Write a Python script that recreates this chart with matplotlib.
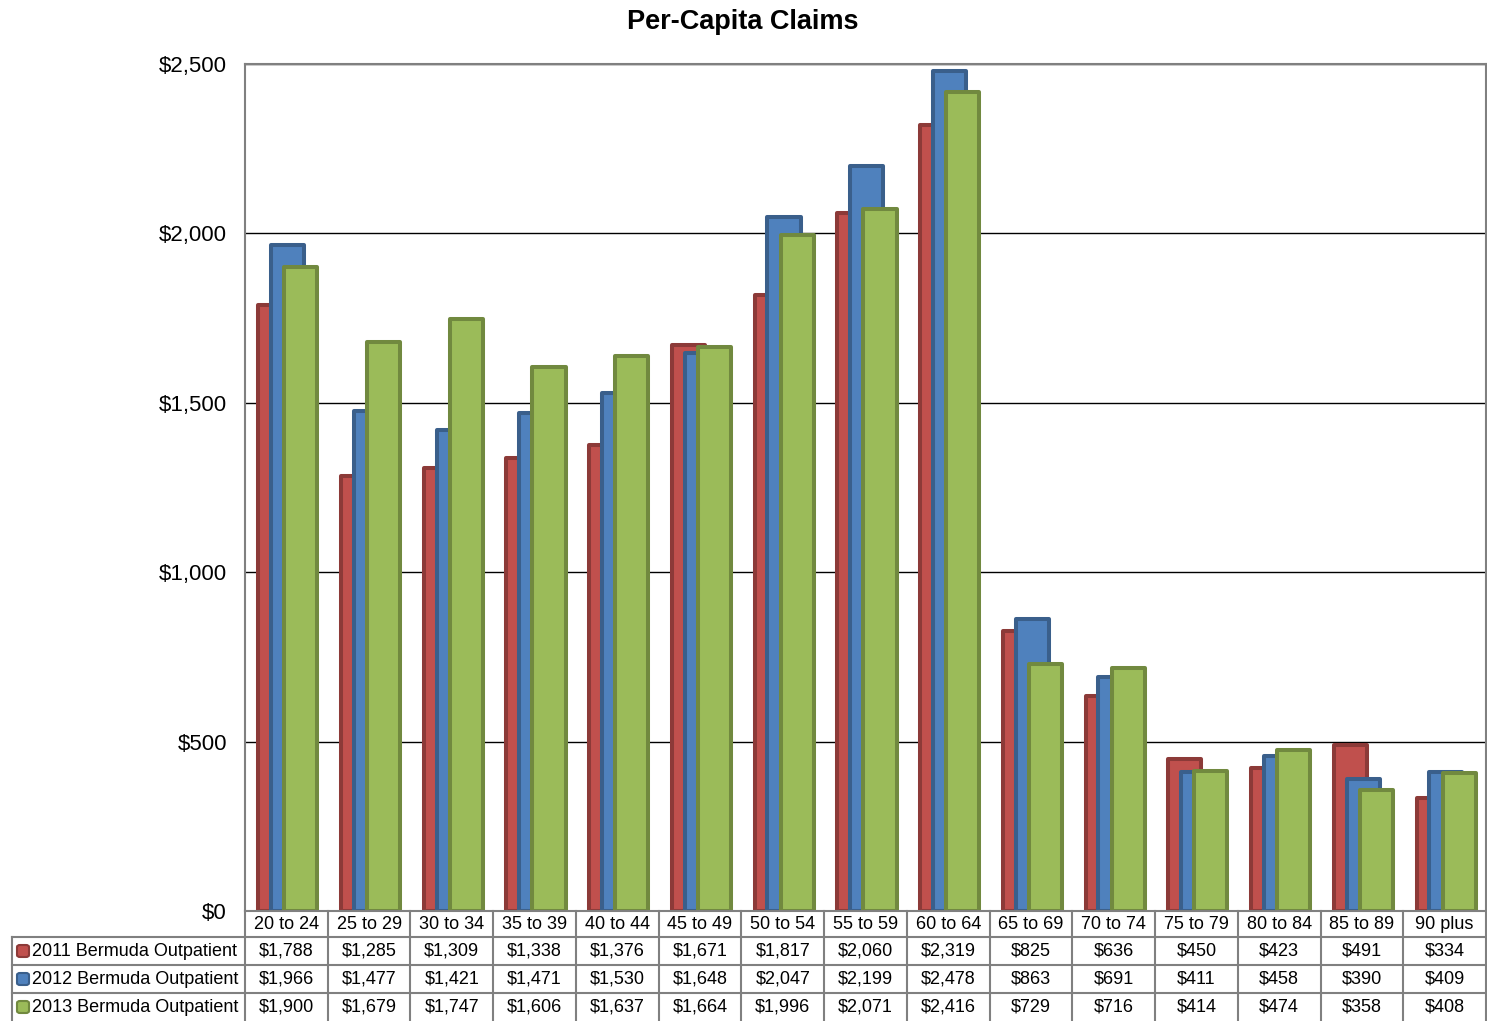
import matplotlib
matplotlib.use("Agg")
import matplotlib.pyplot as plt
import numpy as np
from matplotlib.lines import Line2D
from matplotlib.patches import FancyBboxPatch
from matplotlib.ticker import FuncFormatter
from matplotlib.transforms import blended_transform_factory

plt.rcParams['font.family'] = ['Liberation Sans', 'DejaVu Sans']

# data
age_groups = ['20 to 24', '25 to 29', '30 to 34', '35 to 39', '40 to 44', '45 to 49',
              '50 to 54', '55 to 59', '60 to 64', '65 to 69', '70 to 74', '75 to 79',
              '80 to 84', '85 to 89', '90 plus']
series_names = ['2011 Bermuda Outpatient', '2012 Bermuda Outpatient', '2013 Bermuda Outpatient']
claims_2011 = [1788, 1285, 1309, 1338, 1376, 1671, 1817, 2060, 2319, 825, 636, 450, 423, 491, 334]
claims_2012 = [1966, 1477, 1421, 1471, 1530, 1648, 2047, 2199, 2478, 863, 691, 411, 458, 390, 409]
claims_2013 = [1900, 1679, 1747, 1606, 1637, 1664, 1996, 2071, 2416, 729, 716, 414, 474, 358, 408]

face_colors = ['#C0504D', '#4F81BD', '#9BBB59']
edge_colors = ['#8C3A38', '#3A5F8B', '#71893F']
grid_gray = '#808080'

W, H = 1487, 1021
fig = plt.figure(figsize=(W / 100, H / 100), dpi=100)


def fx(px):
    return px / W


def fy(py):
    return 1 - py / H


ax = fig.add_axes([fx(245), fy(911), fx(1486) - fx(245), fy(64) - fy(911)])

x = np.arange(len(age_groups))
all_series = [claims_2011, claims_2012, claims_2013]
offsets = [-0.14, 0.015, 0.175]
for k, (vals, off) in enumerate(zip(all_series, offsets)):
    ax.bar(x + off, vals, width=0.40, color=face_colors[k], edgecolor=edge_colors[k],
           linewidth=2.9, joinstyle='round', zorder=2 + k)

ax.set_xlim(-0.5, len(age_groups) - 0.5)
ax.set_ylim(0, 2500)
ax.set_yticks(range(0, 2501, 500))
ax.yaxis.set_major_formatter(FuncFormatter(lambda v, p: f'${v:,.0f}'))
ax.tick_params(axis='y', length=0, pad=13, labelsize=16)
ax.set_xticks([])
ax.grid(axis='y', color='black', linewidth=1.0)
ax.set_axisbelow(True)
for s in ax.spines.values():
    s.set_color(grid_gray)
    s.set_linewidth(1.5)
    s.set_zorder(10)

fig.text(fx(743), fy(22), 'Per-Capita Claims', ha='center', va='center',
         fontsize=19.5, fontweight='bold')

# data table under the plot
trans = blended_transform_factory(ax.transData, fig.transFigure)
row_lines = [937, 965, 993]
row_centers = [951, 979, 1007]

for yl in row_lines:
    fig.add_artist(Line2D([fx(12), fx(1486)], [fy(yl), fy(yl)], color=grid_gray, lw=1.5))
fig.add_artist(Line2D([fx(12), fx(12)], [fy(937), fy(1021)], color=grid_gray, lw=1.5))
for b in np.arange(len(age_groups) + 1) - 0.5:
    fig.add_artist(Line2D([b, b], [fy(911), fy(1021)], color=grid_gray, lw=1.5,
                          transform=trans))

for i, g in enumerate(age_groups):
    fig.text(i, fy(924), g, transform=trans, ha='center', va='center', fontsize=13)

for r, (name, vals) in enumerate(zip(series_names, all_series)):
    yc = row_centers[r]
    fig.add_artist(FancyBboxPatch((fx(17), fy(yc + 6)), fx(12), fy(yc - 6) - fy(yc + 6),
                                  boxstyle='round,pad=0,rounding_size=0.002',
                                  facecolor=face_colors[r], edgecolor=edge_colors[r],
                                  lw=1.5, transform=fig.transFigure))
    fig.text(fx(32), fy(yc), name, ha='left', va='center', fontsize=13)
    for i, v in enumerate(vals):
        fig.text(i, fy(yc), f'${v:,}', transform=trans, ha='center', va='center', fontsize=13)

fig.savefig('out.png', dpi=100)
